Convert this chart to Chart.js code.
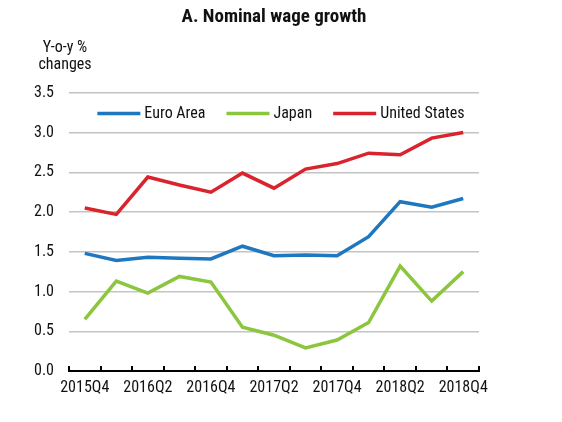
<!DOCTYPE html>
<html>
<head>
<meta charset="utf-8">
<script src="https://cdn.jsdelivr.net/npm/chart.js@4.4.1/dist/chart.umd.min.js"></script>
<style>
  html, body { margin: 0; padding: 0; background: #fff; }
  #wrap { width: 562px; height: 422px; }
</style>
</head>
<body>
<div id="wrap"><canvas id="c" width="562" height="422"></canvas></div>
<script>
// quarters 2015Q4 .. 2018Q4
const quarters = ['2015Q4', '2016Q1', '2016Q2', '2016Q3', '2016Q4', '2017Q1', '2017Q2',
  '2017Q3', '2017Q4', '2018Q1', '2018Q2', '2018Q3', '2018Q4']
const euroArea = [1.48, 1.39, 1.43, 1.42, 1.41, 1.57, 1.45, 1.46, 1.45, 1.69, 2.13, 2.06, 2.17]
const japan = [0.65, 1.13, 0.98, 1.19, 1.12, 0.55, 0.45, 0.29, 0.39, 0.61, 1.32, 0.88, 1.25]
const unitedStates = [2.05, 1.97, 2.44, 2.34, 2.25, 2.49, 2.30, 2.54, 2.61, 2.74, 2.72, 2.93, 3.00]
const yTicks = [0, 0.5, 1.0, 1.5, 2.0, 2.5, 3.0, 3.5]

// narrow face if there is one, else plain sans
const probe = document.createElement('canvas').getContext('2d')
function hasFont(name) {
  probe.font = '40px monospace'
  const base = probe.measureText('2015Q4 Euro Area').width
  probe.font = `40px "${name}", monospace`
  return probe.measureText('2015Q4 Euro Area').width !== base
}
const NARROW = hasFont('Roboto Condensed')
const FONT = NARROW ? "'Roboto Condensed', sans-serif" : "'Liberation Sans', sans-serif"
const SIZE = NARROW ? 16 : 14.5
const INK = '#111'

// inward tick marks on the category axis, y title and in-plot legend
const decorations = {
  id: 'decorations',
  afterDatasetsDraw(chart) {
    const { ctx, chartArea, scales } = chart
    const x = scales.x
    ctx.save()
    ctx.strokeStyle = '#000'
    ctx.lineWidth = 2
    for (let i = 0; i <= quarters.length; i++) {
      const px = Math.round(x.getPixelForValue(i - 0.5))
      ctx.beginPath()
      ctx.moveTo(px, chartArea.bottom + 1)
      ctx.lineTo(px, chartArea.bottom - 5)
      ctx.stroke()
    }

    // y-axis title
    ctx.fillStyle = INK
    ctx.font = SIZE + 'px ' + FONT
    ctx.textAlign = 'center'
    ctx.textBaseline = 'middle'
    ctx.fillText('Y-o-y %', 65, 48)
    ctx.fillText('changes', 65, 65)

    // legend
    const lineLen = 43
    const gapText = 4
    const gapItem = 21
    const items = chart.data.datasets.map((ds) => ({
      label: ds.label,
      color: ds.borderColor,
      w: lineLen + gapText + ctx.measureText(ds.label).width,
    }))
    const total = items.reduce((a, it) => a + it.w, 0) + gapItem * (items.length - 1)
    let cx = chart.width / 2 - total / 2
    const cy = 113.5
    ctx.textAlign = 'left'
    items.forEach((it) => {
      ctx.strokeStyle = it.color
      ctx.lineWidth = 3.5
      ctx.beginPath()
      ctx.moveTo(cx, cy)
      ctx.lineTo(cx + lineLen, cy)
      ctx.stroke()
      ctx.fillStyle = INK
      ctx.fillText(it.label, cx + lineLen + gapText, cy)
      cx += it.w + gapItem
    })
    ctx.restore()
  },
}

const series = (label, data, color) => ({
  label,
  data,
  borderColor: color,
  backgroundColor: color,
  borderWidth: 3.5,
  pointRadius: 0,
  tension: 0,
})

new Chart(document.getElementById('c'), {
  type: 'line',
  data: {
    labels: quarters,
    datasets: [
      series('Euro Area', euroArea, '#1f78bf'),
      series('Japan', japan, '#8cc63e'),
      series('United States', unitedStates, '#d9232d'),
    ],
  },
  options: {
    responsive: false,
    animation: false,
    events: [],
    layout: { padding: { left: 0, right: 83, top: 0, bottom: 21 } },
    plugins: {
      legend: { display: false },
      tooltip: { enabled: false },
      title: {
        display: true,
        fullSize: false,
        text: 'A. Nominal wage growth',
        color: INK,
        font: { family: FONT, size: NARROW ? 19 : 16, weight: 'bold' },
        padding: { top: 6, bottom: 64 },
      },
    },
    scales: {
      x: {
        offset: true,
        grid: { display: true, offset: true, drawOnChartArea: false, drawTicks: false },
        border: { display: true, color: '#000', width: 2 },
        ticks: {
          autoSkip: false,
          maxRotation: 0,
          padding: 7,
          color: INK,
          font: { family: FONT, size: SIZE },
          callback: (v, i) => (i % 2 === 0 ? quarters[i] : ''),
        },
        afterFit: (s) => { s.height = 30 },
      },
      y: {
        min: 0,
        max: 3.5,
        afterBuildTicks: (s) => { s.ticks = yTicks.map((v) => ({ value: v })) },
        grid: {
          color: (c) => (c.tick && c.tick.value === 0 ? 'rgba(0,0,0,0)' : '#c4c4c4'),
          lineWidth: 1.5,
          drawTicks: false,
        },
        border: { display: false },
        ticks: {
          padding: 15,
          color: INK,
          font: { family: FONT, size: SIZE },
          callback: (v) => Number(v).toFixed(1),
        },
        afterFit: (s) => { s.width = 69 },
      },
    },
  },
  plugins: [decorations],
})
</script>
</body>
</html>
